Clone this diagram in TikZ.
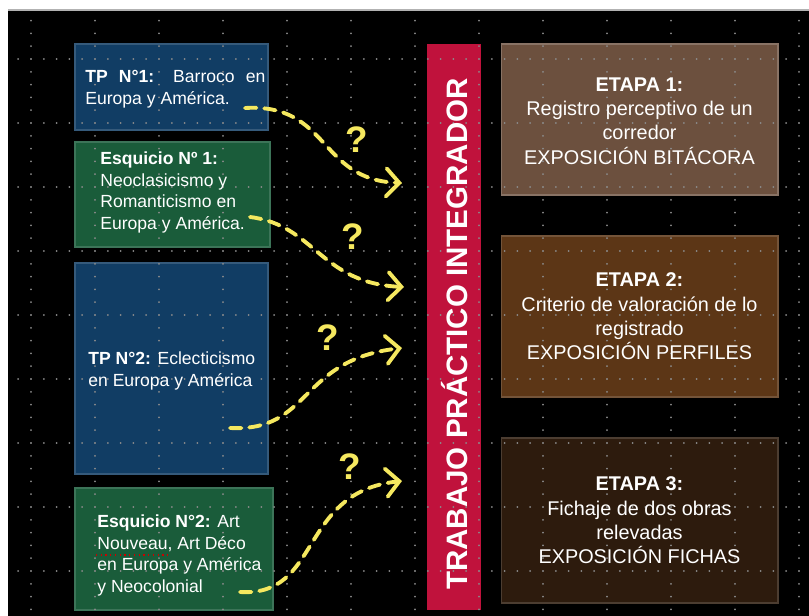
\documentclass[tikz,border=0pt]{standalone}
\usepackage{fontspec}
\setmainfont{Liberation Sans}
\usetikzlibrary{arrows.meta,positioning}
\definecolor{tpazul}{RGB}{17,61,100}
\definecolor{esqverde}{RGB}{26,92,58}
\definecolor{barrarojo}{RGB}{192,18,60}
\definecolor{etapauno}{RGB}{108,80,62}
\definecolor{etapados}{RGB}{92,54,22}
\definecolor{etapatres}{RGB}{45,27,13}
\definecolor{amarillo}{RGB}{245,232,95}
\definecolor{puntos}{RGB}{140,140,140}
\begin{document}
\begin{tikzpicture}[x=0.02cm,y=-0.02cm,
	caja/.style={rectangle,inner sep=0pt,outer sep=0pt,line width=0.6pt},
	tpbox/.style={caja,fill=tpazul,draw=tpazul!85!white,minimum width=3.86cm},
	esqbox/.style={caja,fill=esqverde,draw=esqverde!85!white},
	etapabox/.style={caja,minimum width=5.54cm},
	lefttext/.style={text=white,inner sep=0pt,anchor=west,align=left,font=\fontsize{10}{12.3}\selectfont},
	etapatext/.style={text=white,inner sep=0pt,align=center,font=\fontsize{11.3}{13.8}\selectfont},
	flecha/.style={draw=amarillo,line width=2.2pt,line cap=round,dash pattern=on 6.5pt off 4.5pt,-{Straight Barb[length=7.5pt,width=16pt,line cap=round]}},
	pregunta/.style={text=amarillo,inner sep=0pt,font=\fontsize{21}{21}\bfseries}]
	\useasboundingbox (0,0) rectangle (809,616);
	\fill[black] (8,10) rectangle (809,616);
	\draw[gray!60,line width=0.6pt] (8,10) -- (809,10);
	
	\node[tpbox,minimum height=1.72cm] (tp1) at (171.5,87) {};
	\node[esqbox,minimum width=3.9cm,minimum height=2.1cm] (esq1) at (172.5,194.5) {};
	\node[tpbox,minimum height=4.22cm] (tp2) at (171.5,368.5) {};
	\node[esqbox,minimum width=3.96cm,minimum height=2.44cm] (esq2) at (174,549) {};
	\node[caja,fill=barrarojo,minimum width=1.08cm,minimum height=11.32cm] (barra) at (454,327) {};
	\node[etapabox,fill=etapauno,draw=etapauno!80!white,minimum height=3.02cm] (et1) at (639.5,119.5) {};
	\node[etapabox,fill=etapados,draw=etapados!85!white,minimum height=3.22cm] (et2) at (639.5,316.5) {};
	\node[etapabox,fill=etapatres,draw=etapatres!85!white,minimum height=3.3cm] (et3) at (639.5,520.5) {};
	
	\foreach \gx in {31,95,...,799}
		\foreach \k in {0,...,46}
			\fill[puntos] (\gx,{20.6+12.8*\k}) circle[radius=0.55pt];
	\foreach \gy in {59,123,...,571}
		\foreach \k in {0,...,61}
			\fill[puntos] ({18.2+12.8*\k},\gy) circle[radius=0.55pt];
	
	\node[lefttext,text width=3.6cm,align=justify] (tp1t) at ([xshift=0.2cm,yshift=-0.04cm]tp1.west) {\textbf{TP N°1:} Barroco en Europa y América.};
	\node[lefttext] (esq1t) at ([xshift=0.5cm,yshift=0.04cm]esq1.west) {\textbf{Esquicio Nº 1:}\\Neoclasicismo y\\Romanticismo en\\Europa y América.};
	\node[lefttext] (tp2t) at ([xshift=0.26cm,yshift=-0.05cm]tp2.west) {\textbf{TP N°2:} Eclecticismo\\en Europa y América};
	\node[lefttext] (esq2t) at ([xshift=0.44cm,yshift=-0.13cm]esq2.west) {\textbf{Esquicio N°2:} Art\\Nouveau, Art Déco\\en Europa y América\\y Neocolonial};
	\draw[red!80!black,line width=0.7pt,dotted] (96,555) -- (170,555);
	\node[text=white,inner sep=0pt,rotate=90,font=\fontsize{16.8}{16.8}\bfseries] (bart) at ([xshift=0.02cm,yshift=-0.14cm]barra.center) {TRABAJO PRÁCTICO INTEGRADOR};
	\node[etapatext] (et1t) at ([yshift=-0.03cm]et1.center) {\textbf{ETAPA 1:}\\Registro perceptivo de un\\corredor\\EXPOSICIÓN BITÁCORA};
	\node[etapatext] (et2t) at (et2.center) {\textbf{ETAPA 2:}\\Criterio de valoración de lo\\registrado\\EXPOSICIÓN PERFILES};
	\node[etapatext] (et3t) at (et3.center) {\textbf{ETAPA 3:}\\Fichaje de dos obras\\relevadas\\EXPOSICIÓN FICHAS};
	
	\coordinate (a1) at (245,108);
	\coordinate (b1) at (402,183);
	\coordinate (a2) at (250,217);
	\coordinate (b2) at (404,287);
	\coordinate (a3) at (230,428);
	\coordinate (b3) at (402,348);
	\coordinate (a4) at (240,592);
	\coordinate (b4) at (402,481);
	\draw[flecha] (a1) .. controls (330,103) and (318,180) .. (b1);
	\draw[flecha] (a2) .. controls (315,225) and (320,283) .. (b2);
	\draw[flecha] (a3) .. controls (312,432) and (298,360) .. (b3);
	\draw[flecha] (a4) .. controls (322,597) and (298,492) .. (b4);
	
	\node[pregunta] (q1) at (357,140) {?};
	\node[pregunta] (q2) at (353,237) {?};
	\node[pregunta] (q3) at (328,338) {?};
	\node[pregunta] (q4) at (350,467) {?};
\end{tikzpicture}
\end{document}
